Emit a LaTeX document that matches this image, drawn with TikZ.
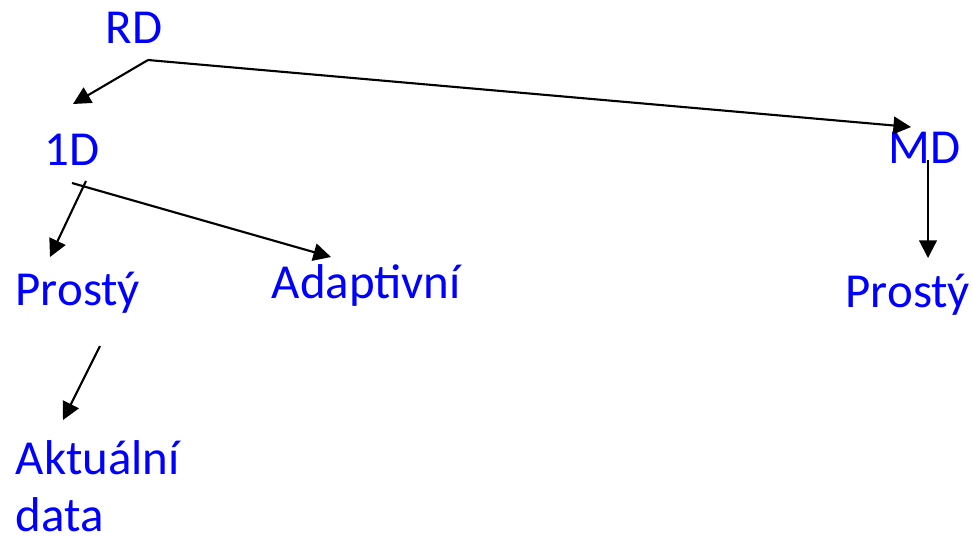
\documentclass[tikz,border=0pt]{standalone}
\usepackage{fontspec}
\setmainfont{Carlito}
\usetikzlibrary{positioning,arrows.meta}
\tikzset{lbl/.style={text=blue,inner sep=0pt,anchor=base west,font=\fontsize{13.9}{16.2}\selectfont},
	 arr/.style={-{Triangle[length=5pt,width=5pt]},line width=0.6pt},
	 node distance = 1
	 }

\begin{document}
\begin{tikzpicture}[x=0.01cm,y=-0.01cm] % RD tree
	\useasboundingbox (0,0) rectangle (973,541);
        \node[lbl] (rd) at (105,43) {RD};
        \node[lbl] (oned) at (44,165) {1D};
        \node[lbl] (md) at (888,163) {MD};
        \node[lbl] (prost1) at (15,305) {Prostý};
        \node[lbl] (adapt) at (271,298) {Adaptivní};
        \node[lbl,align=left] (aktual) at (15,531) {Aktuální\\data};
        \node[lbl] (prost2) at (845,307) {Prostý};
	\coordinate (rdf) at (148,60);
	\coordinate (t1d) at (73,104);
	\coordinate (tmd) at (911,127);
	\coordinate (odf1) at (72,183);
	\coordinate (odf2) at (86,181);
	\coordinate (tad) at (331,257);
	\coordinate (tp1) at (50,257);
	\coordinate (p1f) at (100,346);
	\coordinate (tak) at (63,420);
	\coordinate (mdf) at (928,160);
	\coordinate (tp2) at (928,258);
	\draw[arr] (rdf) to (t1d);
	\draw[arr] (rdf) to (tmd);
	\draw[arr] (odf1) to (tad);
	\draw[arr] (odf2) to (tp1);
	\draw[arr] (p1f) to (tak);
	\draw[arr] (mdf) to (tp2);
\end{tikzpicture}
\end{document}
